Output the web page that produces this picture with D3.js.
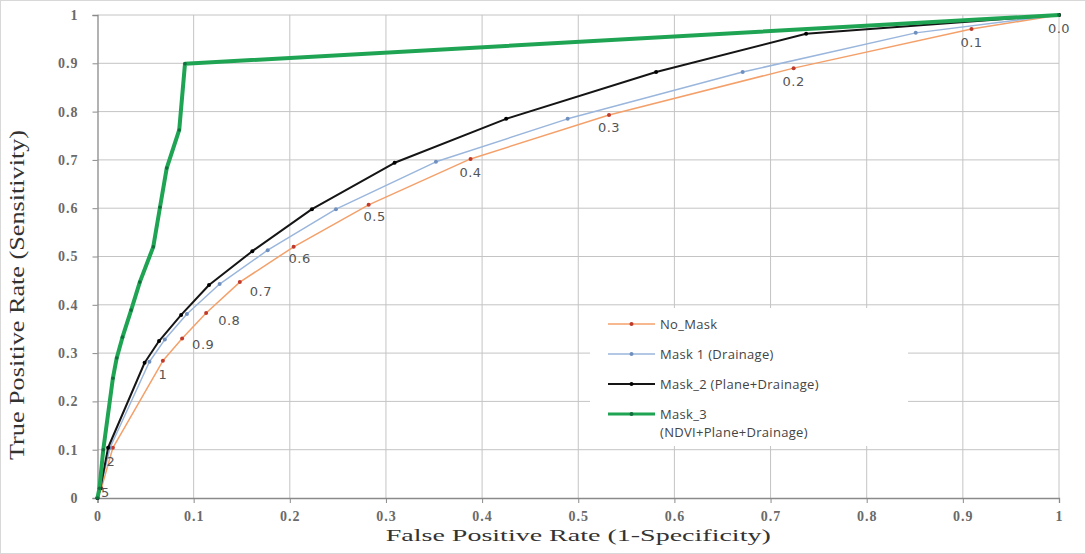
<!DOCTYPE html>
<html>
<head>
<meta charset="utf-8">
<script src="https://cdn.jsdelivr.net/npm/d3@7"></script>
<style>
  body { margin: 0; background: #fff; }
  svg { display: block; }
</style>
</head>
<body>
<div id="chart"></div>
<script>
// ROC curves, thresholds from 0.0 down to 5 then origin
const thresholdLabels = ["0.0", "0.1", "0.2", "0.3", "0.4", "0.5", "0.6", "0.7", "0.8", "0.9", "1", "2", "5", ""];

const noMaskFPR = [1, 0.909, 0.724, 0.532, 0.388, 0.282, 0.204, 0.148, 0.113, 0.088, 0.068, 0.016, 0.004, 0];
const noMaskTPR = [1, 0.971, 0.890, 0.793, 0.702, 0.607, 0.520, 0.447, 0.383, 0.330, 0.284, 0.104, 0.02, 0];

const mask1FPR = [1, 0.851, 0.671, 0.489, 0.352, 0.248, 0.177, 0.127, 0.093, 0.070, 0.054, 0.013, 0.003, 0];
const mask1TPR = [1, 0.963, 0.882, 0.785, 0.696, 0.598, 0.513, 0.443, 0.381, 0.328, 0.282, 0.104, 0.02, 0];

const mask2FPR = [1, 0.737, 0.581, 0.425, 0.309, 0.223, 0.161, 0.116, 0.087, 0.064, 0.049, 0.011, 0.003, 0];
const mask2TPR = [1, 0.961, 0.882, 0.785, 0.694, 0.598, 0.511, 0.441, 0.379, 0.325, 0.280, 0.104, 0.02, 0];

const mask3FPR = [1, 0.091, 0.085, 0.072, 0.065, 0.058, 0.044, 0.035, 0.026, 0.020, 0.016, 0.006, 0.002, 0];
const mask3TPR = [1, 0.899, 0.762, 0.683, 0.602, 0.520, 0.447, 0.389, 0.333, 0.290, 0.248, 0.100, 0.02, 0];

const seriesNames = ["No_Mask", "Mask 1 (Drainage)", "Mask_2 (Plane+Drainage)", "Mask_3|(NDVI+Plane+Drainage)"];
const ticks = [0, 0.1, 0.2, 0.3, 0.4, 0.5, 0.6, 0.7, 0.8, 0.9, 1];

const W = 1086, H = 554;
const margin = { top: 15, right: 27, bottom: 56, left: 97.5 };

const series = [
  { name: seriesNames[0], fpr: noMaskFPR, tpr: noMaskTPR, line: "#f4a06a", mark: "#c0392b", width: 1.5, r: 2 },
  { name: seriesNames[1], fpr: mask1FPR, tpr: mask1TPR, line: "#9ab6dc", mark: "#6f8fbf", width: 1.5, r: 2 },
  { name: seriesNames[2], fpr: mask2FPR, tpr: mask2TPR, line: "#151515", mark: "#000", width: 2, r: 2 },
  { name: seriesNames[3], fpr: mask3FPR, tpr: mask3TPR, line: "#1fa454", mark: "#10703a", width: 4, r: 1.8 },
];

const svg = d3.select("#chart").append("svg")
  .attr("width", W).attr("height", H);

svg.append("rect")
  .attr("x", 0.5).attr("y", 0.5)
  .attr("width", W - 1).attr("height", H - 1)
  .attr("fill", "#fff").attr("stroke", "#d8d8d8");

const x = d3.scaleLinear().domain([0, 1]).range([margin.left, W - margin.right]);
const y = d3.scaleLinear().domain([0, 1]).range([H - margin.bottom, margin.top]);

// grid
svg.append("g").selectAll("line.v").data(ticks.slice(1)).join("line")
  .attr("x1", d => x(d)).attr("x2", d => x(d))
  .attr("y1", y(0)).attr("y2", y(1))
  .attr("stroke", "#c4c4c4").attr("stroke-width", 1);
svg.append("g").selectAll("line.h").data(ticks.slice(1)).join("line")
  .attr("x1", x(0)).attr("x2", x(1))
  .attr("y1", d => y(d)).attr("y2", d => y(d))
  .attr("stroke", "#c4c4c4").attr("stroke-width", 1);

// axes
const fmt = d => d === 0 ? "0" : d === 1 ? "1" : d3.format(".1f")(d);
const xAxis = svg.append("g")
  .attr("transform", `translate(0,${y(0)})`)
  .call(d3.axisBottom(x).tickValues(ticks).tickFormat(fmt).tickSize(5).tickPadding(8));
const yAxis = svg.append("g")
  .attr("transform", `translate(${x(0)},0)`)
  .call(d3.axisLeft(y).tickValues(ticks).tickFormat(fmt).tickSize(5).tickPadding(14));

[xAxis, yAxis].forEach(a => {
  a.select(".domain").attr("stroke", "#8a8a8a").attr("stroke-width", 1.3);
  a.selectAll(".tick line").attr("stroke", "#8a8a8a");
  a.selectAll(".tick text")
    .attr("fill", "#6a6a6a")
    .style("font-family", "'Liberation Serif', serif")
    .style("font-size", "14px")
    .style("font-weight", "bold")
    .style("letter-spacing", "1px");
});

// axis titles
svg.append("text")
  .attr("x", x(0.5)).attr("y", 541)
  .attr("text-anchor", "middle")
  .attr("textLength", 385).attr("lengthAdjust", "spacingAndGlyphs")
  .style("font-family", "'Liberation Serif', serif")
  .style("font-size", "17px")
  .attr("fill", "#333")
  .text("False Positive Rate (1-Specificity)");

svg.append("text")
  .attr("transform", `translate(24,${295}) rotate(-90)`)
  .attr("text-anchor", "middle")
  .attr("textLength", 330).attr("lengthAdjust", "spacingAndGlyphs")
  .style("font-family", "'Liberation Serif', serif")
  .style("font-size", "20px")
  .attr("fill", "#333")
  .text("True Positive Rate (Sensitivity)");

// curves
const line = d3.line().x(d => x(d[0])).y(d => y(d[1]));

series.forEach(s => {
  const pts = s.fpr.map((f, i) => [f, s.tpr[i]]);
  const g = svg.append("g");
  g.append("path")
    .attr("d", line(pts))
    .attr("fill", "none")
    .attr("stroke", s.line)
    .attr("stroke-width", s.width)
    .attr("stroke-linejoin", "round");
  g.selectAll("circle").data(pts).join("circle")
    .attr("cx", d => x(d[0])).attr("cy", d => y(d[1]))
    .attr("r", s.r)
    .attr("fill", s.mark);
});

// threshold labels along No_Mask
const labelOffset = [[0, 18], [0, 18], [0, 18], [0, 17], [0, 18], [6, 16], [6, 16], [10, 14], [12, 12], [10, 10], [0, 18], [-2, 18], [4, 9], [0, 0]];
svg.append("g").selectAll("text").data(thresholdLabels).join("text")
  .attr("x", (d, i) => x(noMaskFPR[i]) + labelOffset[i][0])
  .attr("y", (d, i) => y(noMaskTPR[i]) + labelOffset[i][1])
  .attr("text-anchor", (d, i) => i >= 7 && i <= 9 ? "start" : "middle")
  .attr("fill", "#555")
  .style("font-family", "'DejaVu Sans', sans-serif")
  .style("font-size", "13px")
  .style("letter-spacing", "0.5px")
  .text(d => d);

// legend
const lg = svg.append("g").attr("transform", "translate(590,308)");
lg.append("rect")
  .attr("x", 0).attr("y", 0).attr("width", 318).attr("height", 138)
  .attr("fill", "#fff");
series.forEach((s, i) => {
  const cy = 16 + i * 30;
  lg.append("line")
    .attr("x1", 18).attr("x2", 65).attr("y1", cy).attr("y2", cy)
    .attr("stroke", s.line).attr("stroke-width", Math.min(s.width, 3));
  lg.append("circle")
    .attr("cx", 41.5).attr("cy", cy).attr("r", 2).attr("fill", s.mark);
  const t = lg.append("text")
    .attr("x", 70).attr("y", cy + 5)
    .attr("fill", "#444")
    .style("font-family", "'Open Sans', sans-serif")
    .style("font-size", "13px")
    .style("letter-spacing", "0.3px");
  s.name.split("|").forEach((part, j) => {
    t.append("tspan").attr("x", 70).attr("dy", j ? 18 : 0).text(part);
  });
});
</script>
</body>
</html>
